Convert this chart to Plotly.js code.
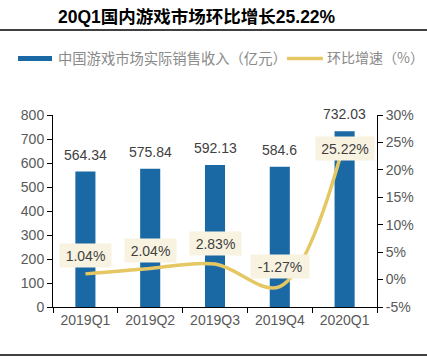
<!DOCTYPE html>
<html><head><meta charset="utf-8">
<script src="https://cdn.plot.ly/plotly-3.0.1.min.js"></script>
<style>body{margin:0;background:#fff}#c{width:427px;height:359px}</style>
</head><body><div id="c"></div>
<script>
const categories = ['2019Q1','2019Q2','2019Q3','2019Q4','2020Q1'];
const revenue = [564.34, 575.84, 592.13, 584.6, 732.03];
const revenueLabels = ['564.34','575.84','592.13','584.6','732.03'];
const growth = [1.04, 2.04, 2.83, -1.27, 25.22];
const growthLabels = ['1.04%','2.04%','2.83%','-1.27%','25.22%'];
const leftTicks = [0,100,200,300,400,500,600,700,800];
const rightTicks = [-5,0,5,10,15,20,25,30];
const rightTickText = ['-5%','0%','5%','10%','15%','20%','25%','30%'];

const font = 'Liberation Sans, Arial, sans-serif';
const cjk = 'Noto Sans CJK SC, sans-serif';
const labelShift = [18.5, 18, 21, 20, -7];

const traces = [
  {type:'bar', x:categories, y:revenue, width:0.31, marker:{color:'#1a69a4'},
   hoverinfo:'none', showlegend:false},
  {type:'scatter', mode:'lines', x:categories, y:growth, yaxis:'y2',
   line:{color:'#e5c764', width:3.5, shape:'spline', smoothing:1}, hoverinfo:'none', showlegend:false}
];

const annotations = revenueLabels.map((t,i)=>({
  x:categories[i], y:revenue[i], xref:'x', yref:'y', text:t, showarrow:false,
  yanchor:'bottom', yshift:7, font:{family:font,size:14,color:'#404040'}
}));
growthLabels.forEach((t,i)=>annotations.push({
  x:categories[i], y:growth[i], xref:'x', yref:'y2', text:t, showarrow:false,
  yshift:labelShift[i], bgcolor:'#f8f3e0', borderpad:4, width:t.length*7+8, height:15,
  font:{family:font,size:14,color:'#404040'}
}));
annotations.push({xref:'paper',yref:'paper',x:0.443,y:1.51,xanchor:'center',yanchor:'middle',
  text:'<b>20Q1国内游戏市场环比增长25.22%</b>',showarrow:false,
  font:{family:'Liberation Sans, Noto Sans CJK SC, sans-serif',size:17.5,color:'#000'}});
annotations.push({xref:'paper',yref:'paper',x:0.009,y:1.3,xanchor:'left',yanchor:'middle',
  text:'中国游戏市场实际销售收入（亿元）',showarrow:false,font:{family:cjk,size:14.3,color:'#8a8a8a'}});
annotations.push({xref:'paper',yref:'paper',x:0.84,y:1.3,xanchor:'left',yanchor:'middle',
  text:'环比增速（%）',showarrow:false,font:{family:cjk,size:14,color:'#8a8a8a'}});

const shapes = [
  {type:'line',xref:'paper',yref:'paper',x0:-0.17,x1:1.16,y0:1.443,y1:1.443,line:{color:'#000',width:1.5}},
  {type:'line',xref:'paper',yref:'paper',x0:-0.17,x1:1.16,y0:-0.25,y1:-0.25,line:{color:'#000',width:1.5}},
  {type:'rect',xref:'paper',yref:'paper',x0:-0.108,x1:-0.003,y0:1.281,y1:1.307,fillcolor:'#1a69a4',line:{width:0}},
  {type:'line',xref:'paper',yref:'paper',x0:0.722,x1:0.833,y0:1.294,y1:1.294,line:{color:'#e5c764',width:3.5}}
];

const layout = {
  width:427, height:359, margin:{l:53,r:50,t:115,b:52},
  paper_bgcolor:'#fff', plot_bgcolor:'#fff', showlegend:false,
  font:{family:font,size:13,color:'#595959'},
  xaxis:{type:'category', showline:true, linecolor:'#000', linewidth:1.3, ticks:'outside',
    tickson:'boundaries', ticklen:5, tickcolor:'#000', tickfont:{size:14,color:'#595959'}, showgrid:false},
  yaxis:{range:[0,800], tickvals:leftTicks, showline:true, linecolor:'#000', linewidth:1, ticks:'outside',
    ticklen:5, tickcolor:'#000', showgrid:false, zeroline:false, tickfont:{size:14,color:'#595959'}},
  yaxis2:{range:[-5,30], overlaying:'y', side:'right', tickvals:rightTicks, ticktext:rightTickText,
    showline:true, linecolor:'#000', linewidth:1, ticks:'outside', ticklen:5, tickcolor:'#000',
    showgrid:false, zeroline:false, tickfont:{size:14,color:'#595959'}},
  annotations, shapes
};
Plotly.newPlot('c', traces, layout, {staticPlot:true, displayModeBar:false});
</script></body></html>
